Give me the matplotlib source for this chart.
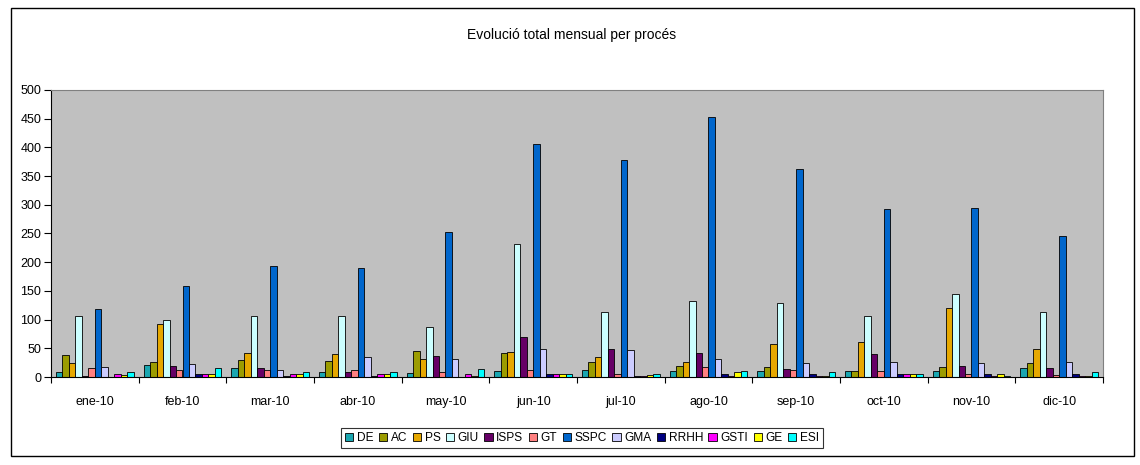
"""Evolució total mensual per procés - grouped monthly bar chart."""

import matplotlib

matplotlib.use("Agg")
import matplotlib.pyplot as plt
import numpy as np
from matplotlib.patches import Rectangle

plt.rcParams["font.family"] = ["Liberation Sans", "DejaVu Sans"]

# %% Data
months = ["ene-10", "feb-10", "mar-10", "abr-10", "may-10", "jun-10",
          "jul-10", "ago-10", "sep-10", "oct-10", "nov-10", "dic-10"]
processes = ["DE", "AC", "PS", "GIU", "ISPS", "GT",
             "SSPC", "GMA", "RRHH", "GSTI", "GE", "ESI"]
colors = ["#1AA6B0", "#9C9C00", "#E6A800", "#CCFFFF", "#660066", "#FF8080",
          "#0066CC", "#CCCCFF", "#000080", "#FF00FF", "#FFFF00", "#00FFFF"]

de = [8, 21, 16, 8, 7, 10, 12, 10, 10, 10, 10, 15]
ac = [38, 26, 29, 28, 45, 42, 26, 20, 18, 10, 18, 24]
ps = [24, 92, 42, 40, 32, 44, 34, 26, 57, 61, 121, 49]
giu = [106, 100, 106, 107, 87, 231, 113, 132, 129, 107, 145, 114]
isps = [1, 19, 16, 8, 36, 69, 49, 42, 14, 40, 20, 15]
gt = [16, 12, 12, 12, 8, 12, 6, 17, 12, 10, 6, 3]
sspc = [118, 158, 193, 190, 253, 406, 378, 453, 362, 292, 295, 245]
gma = [17, 22, 12, 34, 32, 49, 47, 31, 25, 26, 24, 26]
rrhh = [0, 5, 1, 1, 0, 5, 1, 6, 6, 5, 5, 5]
gsti = [6, 6, 6, 5, 5, 5, 1, 1, 2, 6, 1, 1]
ge = [4, 6, 6, 6, 1, 5, 4, 8, 2, 5, 6, 1]
esi = [8, 15, 8, 8, 14, 5, 6, 10, 8, 6, 2, 8]
series = [de, ac, ps, giu, isps, gt, sspc, gma, rrhh, gsti, ge, esi]

# %% Plot
W, H = 1140, 465
fig = plt.figure(figsize=(W / 100, H / 100), dpi=100)
fig.patches.append(Rectangle((11 / W, 1 - 456 / H), 1123 / W, 448 / H,
                             transform=fig.transFigure, fill=False,
                             edgecolor="black", linewidth=1.0))
ax = fig.add_axes([51 / W, 1 - 377 / H, 1052 / W, 287 / H])
ax.set_facecolor("#C0C0C0")

n = len(processes)
group_w = 0.886
bar_w = group_w / n
x = np.arange(len(months)) + 0.5
for i, (name, vals, col) in enumerate(zip(processes, series, colors)):
    offs = -group_w / 2 + (i + 0.5) * bar_w
    ax.bar(x + offs, vals, width=bar_w, color=col, edgecolor="black",
           linewidth=0.6, label=name)

ax.set_xlim(0, len(months))
ax.set_ylim(0, 500)
ax.set_yticks(np.arange(0, 501, 50))
ax.set_xticks(np.arange(len(months) + 1))
ax.set_xticklabels([])
ax.set_xticks(x, minor=True)
ax.set_xticklabels(months, minor=True)
ax.tick_params(axis="x", which="minor", length=0, pad=14, labelsize=9)
ax.tick_params(axis="x", which="major", length=4, direction="out")
ax.tick_params(axis="y", length=5, direction="out", labelsize=9, pad=2)
for side in ["top", "right"]:
    ax.spines[side].set_color("#808080")
ax.spines["left"].set_color("black")
ax.spines["bottom"].set_color("black")

fig.text(572 / W, 1 - 35 / H, "Evolució total mensual per procés",
         ha="center", va="center", fontsize=10)

leg = fig.legend(loc="center", bbox_to_anchor=(582 / W, 1 - 438 / H),
                 ncol=n, fontsize=8.6, frameon=True, fancybox=False,
                 handlelength=0.7, handleheight=0.7, handletextpad=0.3,
                 columnspacing=0.45, borderpad=0.35, borderaxespad=0)
leg.get_frame().set_edgecolor("black")
leg.get_frame().set_linewidth(0.8)

fig.savefig("out.png", dpi=100)
